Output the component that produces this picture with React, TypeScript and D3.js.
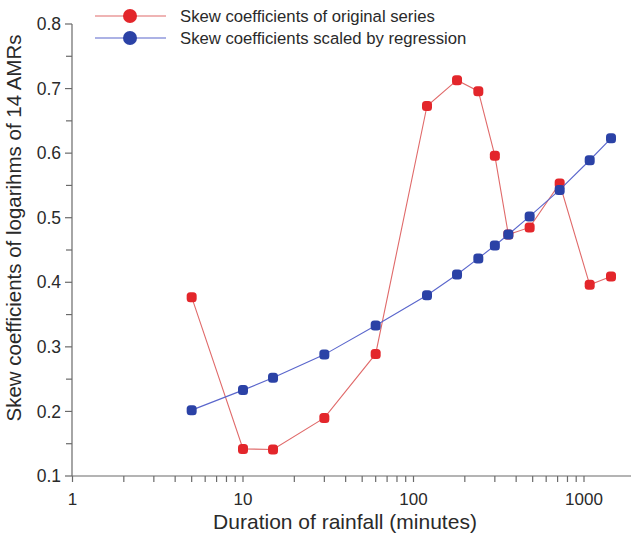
import React from "react";
import * as d3 from "d3";

const durations = [5, 10, 15, 30, 60, 120, 180, 240, 300, 360, 480, 720, 1080, 1440];
const originalSkew = [0.377, 0.142, 0.141, 0.19, 0.289, 0.673, 0.713, 0.696, 0.596, 0.474, 0.485, 0.553, 0.396, 0.409];
const scaledSkew = [0.202, 0.233, 0.252, 0.288, 0.333, 0.38, 0.412, 0.437, 0.457, 0.474, 0.502, 0.543, 0.589, 0.623];
const yMajorTicks = [0.1, 0.2, 0.3, 0.4, 0.5, 0.6, 0.7, 0.8];
const yMinorTicks = [0.15, 0.25, 0.35, 0.45, 0.55, 0.65, 0.75];
const xMajorTicks = [1, 10, 100, 1000];
const seriesNames = ["Skew coefficients of original series", "Skew coefficients scaled by regression"];

const W = 631;
const H = 535;
const AXIS_X = 72;
const AXIS_Y = 476;

export default function App() {
  const x = d3.scaleLog().domain([1, 2000]).range([72.5, 72.5 + Math.log10(2000) * 170.5]);
  const y = d3.scaleLinear().domain([0.1, 0.8]).range([AXIS_Y, 24]);

  const xMinor: number[] = [];
  for (let p = 0; p < 4; p++) {
    for (let m = 2; m <= 9; m++) {
      const v = m * Math.pow(10, p);
      if (v <= 2000) xMinor.push(v);
    }
  }

  const line = d3
    .line<number>()
    .x((_, i) => x(durations[i]))
    .y((d) => y(d));

  const axisColor = "#6a6a6a";
  const textColor = "#2a2a2a";
  const redLine = "#e06a6a";
  const redMark = "#e3262b";
  const blueLine = "#5a66cc";
  const blueMark = "#2b42a6";
  const font = "'Liberation Sans', Arial, sans-serif";
  const ms = 10;

  return (
    <svg
      width={W}
      height={H}
      style={{ position: "absolute", left: 0, top: 0, background: "#fff" }}
      fontFamily={font}
    >
      {/* axes */}
      <line x1={AXIS_X} x2={W} y1={AXIS_Y} y2={AXIS_Y} stroke={axisColor} strokeWidth={1.2} />
      <line x1={AXIS_X} x2={AXIS_X} y1={y(0.8)} y2={AXIS_Y} stroke={axisColor} strokeWidth={1.2} />
      {yMajorTicks.map((t) => (
        <g key={"ym" + t}>
          <line x1={AXIS_X - 7} x2={AXIS_X} y1={y(t)} y2={y(t)} stroke={axisColor} strokeWidth={1.2} />
          <text x={AXIS_X - 11} y={y(t)} dy="0.35em" textAnchor="end" fontSize={17.5} fill={textColor}>
            {t.toFixed(1)}
          </text>
        </g>
      ))}
      {yMinorTicks.map((t) => (
        <line key={"yn" + t} x1={AXIS_X - 6} x2={AXIS_X} y1={y(t)} y2={y(t)} stroke={axisColor} strokeWidth={1.2} />
      ))}
      {xMajorTicks.map((t) => (
        <g key={"xm" + t}>
          <line x1={x(t)} x2={x(t)} y1={AXIS_Y} y2={AXIS_Y + 6} stroke={axisColor} strokeWidth={1.2} />
          <text x={x(t)} y={505} textAnchor="middle" fontSize={17} fill={textColor}>
            {String(t)}
          </text>
        </g>
      ))}
      {xMinor.map((t) => (
        <line key={"xn" + t} x1={x(t)} x2={x(t)} y1={AXIS_Y} y2={AXIS_Y + 6} stroke={axisColor} strokeWidth={1.2} />
      ))}

      {/* titles */}
      <text x={345} y={529} textAnchor="middle" fontSize={21} fill={textColor}>
        Duration of rainfall (minutes)
      </text>
      <text
        transform={`translate(21,228) rotate(-90)`}
        textAnchor="middle"
        fontSize={20.5}
        fill={textColor}
      >
        Skew coefficients of logarihms of 14 AMRs
      </text>

      {/* series */}
      <path d={line(originalSkew) || ""} fill="none" stroke={redLine} strokeWidth={1.1} />
      {originalSkew.map((v, i) => (
        <rect
          key={"r" + i}
          x={x(durations[i]) - ms / 2}
          y={y(v) - ms / 2}
          width={ms}
          height={ms}
          rx={3.5}
          fill={redMark}
        />
      ))}
      <path d={line(scaledSkew) || ""} fill="none" stroke={blueLine} strokeWidth={1.1} />
      {scaledSkew.map((v, i) => (
        <rect
          key={"b" + i}
          x={x(durations[i]) - ms / 2}
          y={y(v) - ms / 2}
          width={ms}
          height={ms}
          rx={3.5}
          fill={blueMark}
        />
      ))}

      {/* legend */}
      {seriesNames.map((name, i) => {
        const ly = 16 + i * 22;
        return (
          <g key={"lg" + i}>
            <line x1={95} x2={166} y1={ly} y2={ly} stroke={i === 0 ? redLine : blueLine} strokeWidth={1.2} />
            <circle cx={130} cy={ly} r={7} fill={i === 0 ? redMark : blueMark} />
            <text x={180} y={ly} dy="0.36em" fontSize={16.7} fill={textColor}>
              {name}
            </text>
          </g>
        );
      })}
    </svg>
  );
}
